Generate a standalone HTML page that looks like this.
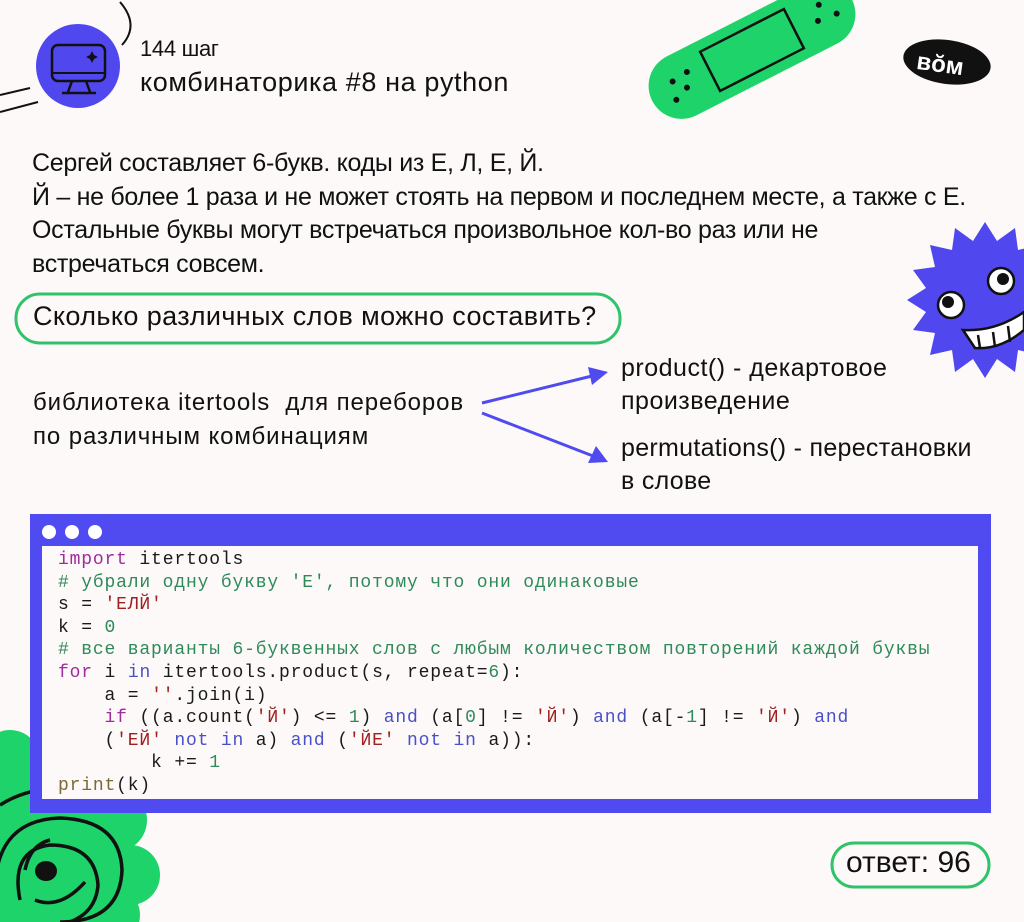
<!DOCTYPE html>
<html><head><meta charset="utf-8"><style>
html,body{margin:0;padding:0}
body{width:1024px;height:922px;background:#fcf9f8;position:relative;overflow:hidden;font-family:"Liberation Sans","Noto Sans CJK SC",sans-serif;color:#111}
.t{position:absolute;white-space:nowrap}
.body{font-size:25px;letter-spacing:-0.3px;line-height:33.5px}
.code{position:absolute;left:58px;top:549px;font-family:"Liberation Mono","DejaVu Sans Mono",monospace;font-size:18px;letter-spacing:0.83px;line-height:22.6px;white-space:pre;color:#1a1a1a}
.kw{color:#a02aa0}.bl{color:#4a50c8}.cm{color:#2f8a5a}.st{color:#a02020}.nu{color:#2f8a5a}.pr{color:#7a6a35}
</style></head><body>
<svg width="1024" height="922" style="position:absolute;left:0;top:0">
  <path d="M120 2 Q140 25 122 45" fill="none" stroke="#111" stroke-width="2"/>
  <path d="M0 95 L30 88" stroke="#111" stroke-width="2"/>
  <path d="M0 112 L38 102" stroke="#111" stroke-width="2"/>
  <circle cx="78" cy="66" r="42" fill="#5048ee"/>
  <rect x="52" y="45" width="53" height="36" rx="6" fill="none" stroke="#111" stroke-width="2.5"/>
  <line x1="52" y1="73" x2="105" y2="73" stroke="#111" stroke-width="2"/>
  <path d="M72 81 L68 92 M86 81 L90 92 M62 93 L96 93" stroke="#111" stroke-width="2.5"/>
  <path d="M92 51 l2 4 4 2 -4 2 -2 4 -2 -4 -4 -2 4 -2z" fill="#111"/>
  <g transform="translate(752,50) rotate(-27)">
    <rect x="-112" y="-33" width="224" height="66" rx="33" fill="#1ed36a"/>
    <rect x="-47" y="-22" width="94" height="44" fill="none" stroke="#111" stroke-width="2.5"/>
    <circle cx="-85" cy="-8" r="3" fill="#111"/><circle cx="-75" cy="4" r="3" fill="#111"/><circle cx="-90" cy="10" r="3" fill="#111"/><circle cx="-68" cy="-10" r="3" fill="#111"/>
    <circle cx="80" cy="-10" r="3" fill="#111"/><circle cx="72" cy="4" r="3" fill="#111"/><circle cx="92" cy="6" r="3" fill="#111"/><circle cx="95" cy="-12" r="3" fill="#111"/>
  </g>
  <ellipse cx="947" cy="62" rx="44" ry="22" fill="#111" transform="rotate(8 947 62)"/>
  <text x="917" y="73" fill="#fff" font-family="Liberation Sans" font-size="24" font-weight="bold" transform="rotate(8 947 62)">вŏм</text>
  <polygon fill="#5048ee" points="1063,300 1044,312 1057,330 1035,333 1040,355 1018,350 1015,372 997,359 985,378 973,359 955,372 952,350 930,355 935,333 913,330 926,312 907,300 926,288 913,270 935,267 930,245 952,250 955,228 973,241 985,222 997,241 1015,228 1018,250 1040,245 1035,267 1057,270 1044,288"/>
  <circle cx="951" cy="305" r="13" fill="#fff" stroke="#111" stroke-width="2.5"/><circle cx="948" cy="302" r="6" fill="#111"/>
  <circle cx="1001" cy="281" r="13" fill="#fff" stroke="#111" stroke-width="2.5"/><circle cx="1003" cy="279" r="6" fill="#111"/>
  <path d="M963 330 Q995 332 1024 312 L1024 330 Q1000 350 975 348 Z" fill="#fff" stroke="#111" stroke-width="2.5"/>
  <path d="M978 335 L980 348 M993 332 L995 347 M1008 326 L1010 342" stroke="#111" stroke-width="2.5"/>
  <g fill="#1ed36a">
    <circle cx="40" cy="870" r="95"/>
    <circle cx="115" cy="820" r="32"/><circle cx="130" cy="875" r="30"/><circle cx="110" cy="915" r="30"/>
    <circle cx="70" cy="765" r="30"/><circle cx="10" cy="760" r="30"/>
  </g>
  <g fill="none" stroke="#111" stroke-width="3.5">
    <path d="M0 805 Q40 780 85 795"/>
    <path d="M-5 905 Q-10 820 60 818 Q120 820 122 870 Q120 922 60 922"/>
    <path d="M20 900 Q10 850 50 845 Q95 845 98 885 Q96 912 70 922"/>
    <path d="M25 870 Q30 845 50 840"/>
    <path d="M35 900 Q60 910 85 882"/>
  </g>
  <ellipse cx="46" cy="871" rx="11" ry="10" fill="#111"/>
  <rect x="30" y="514" width="961" height="299" fill="#4f4bf0"/>
  <rect x="42" y="546" width="936" height="253" fill="#fcf9f8"/>
  <circle cx="49" cy="532" r="7" fill="#fff"/><circle cx="72" cy="532" r="7" fill="#fff"/><circle cx="95" cy="532" r="7" fill="#fff"/>
  <rect x="16" y="294" width="604" height="49" rx="24" fill="none" stroke="#2fc46a" stroke-width="3"/>
  <rect x="832" y="843" width="157" height="44" rx="22" fill="none" stroke="#2fc46a" stroke-width="3"/>
  <line x1="482" y1="403" x2="592" y2="376" stroke="#4f4bf0" stroke-width="3"/>
  <polygon points="608,372 588,367 592,385" fill="#4f4bf0"/>
  <line x1="482" y1="413" x2="593" y2="456" stroke="#4f4bf0" stroke-width="3"/>
  <polygon points="608,462 596,446 588,463" fill="#4f4bf0"/>
</svg>
<div class="t" style="left:140px;top:36px;font-size:22px;letter-spacing:-0.3px">144 шаг</div>
<div class="t" style="left:140px;top:67px;font-size:27px;letter-spacing:0.6px">комбинаторика #8 на python</div>
<div class="t body" style="left:32px;top:147px">Сергей составляет 6-букв. коды из Е, Л, Е, Й.<br>Й – не более 1 раза и не может стоять на первом и последнем месте, а также с Е.<br>Остальные буквы могут встречаться произвольное кол-во раз или не<br>встречаться совсем.</div>
<div class="t" style="left:33px;top:301px;font-size:27px;letter-spacing:0.4px">Сколько различных слов можно составить?</div>
<div class="t" style="left:33px;top:386px;font-size:24px;letter-spacing:0.9px;line-height:34px">библиотека itertools &nbsp;для переборов<br>по различным комбинациям</div>
<div class="t" style="left:621px;top:352px;font-size:25px;letter-spacing:0.5px;line-height:33px">product() - декартовое<br>произведение</div>
<div class="t" style="left:621px;top:432px;font-size:25px;letter-spacing:0.3px;line-height:33px">permutations() - перестановки<br>в слове</div>
<div class="t" style="left:846px;top:846px;font-size:30px;letter-spacing:0px">ответ: 96</div>
<div class="code"><span class="kw">import</span> itertools
<span class="cm"># убрали одну букву 'Е', потому что они одинаковые</span>
s = <span class="st">'ЕЛЙ'</span>
k = <span class="nu">0</span>
<span class="cm"># все варианты 6-буквенных слов с любым количеством повторений каждой буквы</span>
<span class="kw">for</span> i <span class="bl">in</span> itertools.product(s, repeat=<span class="nu">6</span>):
    a = <span class="st">''</span>.join(i)
    <span class="kw">if</span> ((a.count(<span class="st">'Й'</span>) &lt;= <span class="nu">1</span>) <span class="bl">and</span> (a[<span class="nu">0</span>] != <span class="st">'Й'</span>) <span class="bl">and</span> (a[-<span class="nu">1</span>] != <span class="st">'Й'</span>) <span class="bl">and</span>
    (<span class="st">'ЕЙ'</span> <span class="bl">not in</span> a) <span class="bl">and</span> (<span class="st">'ЙЕ'</span> <span class="bl">not in</span> a)):
        k += <span class="nu">1</span>
<span class="pr">print</span>(k)</div>
</body></html>
